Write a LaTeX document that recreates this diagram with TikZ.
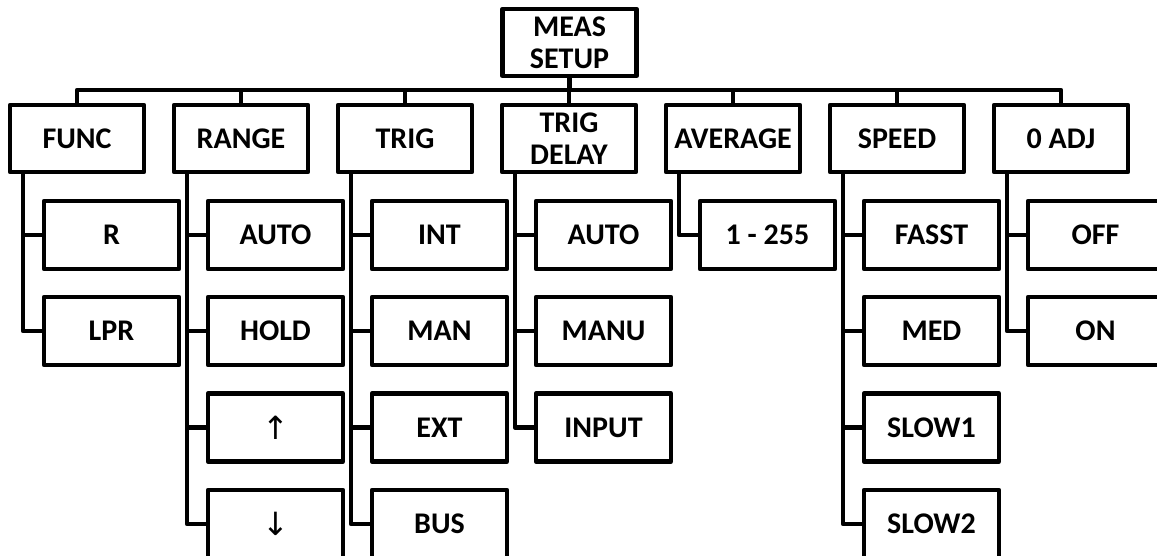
\documentclass[tikz,border=0pt]{standalone}
\usepackage{fontspec}
\setmainfont{Carlito}
\newfontfamily\arrowfont{DejaVu Sans}
\begin{document}
\begin{tikzpicture}[x=1pt,y=-1pt,
  box/.style={draw, line width=4.3pt, line join=round, minimum width=134pt, minimum height=67pt,
    inner sep=0pt, align=center, font=\bfseries\fontsize{30}{32}\selectfont},
  cbox/.style={box, minimum width=135pt, minimum height=68pt},
  arr/.style={font=\arrowfont\mdseries\fontsize{32}{32}\selectfont},
  wire/.style={line width=4.3pt, line join=round}]
\useasboundingbox (0,0) rectangle (1157,556);
\clip (0,0) rectangle (1157,556);
% root
\node[box] (meas) at (569.5,42.5) {MEAS\\SETUP};
% level 1
\node[box] (func)  at (77,138.5)  {FUNC};
\node[box] (range) at (241,138.5) {RANGE};
\node[box] (trig)  at (405,138.5) {TRIG};
\node[box] (tdel)  at (569,138.5) {TRIG\\DELAY};
\node[box] (avg)   at (733,138.5) {AVERAGE};
\node[box] (speed) at (897,138.5) {SPEED};
\node[box] (adj)   at (1061,138.5) {0 ADJ};
\coordinate (bus) at (569,90);
\draw[wire] (func.north) |- (adj.north |- bus) -- (adj.north);
\draw[wire] (meas.south) -- (meas.south |- bus);
\foreach \n in {range,trig,tdel,avg,speed}{
  \draw[wire] (\n.north) -- (\n.north |- bus);
}
% children
\node[cbox] (fr)   at (111.5,235) {R};
\node[cbox] (flpr) at (111.5,331) {LPR};
\node[cbox] (rauto) at (275.5,235) {AUTO};
\node[cbox] (rhold) at (275.5,331) {HOLD};
\node[cbox, arr] (rup)   at (275.5,427.5) {↑};
\node[cbox, arr] (rdown) at (275.5,524) {↓};
\node[cbox] (tint) at (439.5,235) {INT};
\node[cbox] (tman) at (439.5,331) {MAN};
\node[cbox] (text) at (439.5,427.5) {EXT};
\node[cbox] (tbus) at (439.5,524) {BUS};
\node[cbox] (dauto)  at (603.5,235) {AUTO};
\node[cbox] (dmanu)  at (603.5,331) {MANU};
\node[cbox] (dinput) at (603.5,427.5) {INPUT};
\node[cbox] (arng) at (767.5,235) {1 - 255};
\node[cbox] (sfast) at (931.5,235) {FASST};
\node[cbox] (smed)  at (931.5,331) {MED};
\node[cbox] (sslow1) at (931.5,427.5) {SLOW1};
\node[cbox] (sslow2) at (931.5,524) {SLOW2};
\node[cbox] (aoff) at (1095.5,235) {OFF};
\node[cbox] (aon)  at (1095.5,331) {ON};
\foreach \p/\c in {func/fr,func/flpr,range/rauto,range/rhold,range/rup,range/rdown,
  trig/tint,trig/tman,trig/text,trig/tbus,tdel/dauto,tdel/dmanu,tdel/dinput,avg/arng,
  speed/sfast,speed/smed,speed/sslow1,speed/sslow2,adj/aoff,adj/aon}{
  \draw[wire] ([xshift=-54pt]\p.south) |- (\c.west);
}
\end{tikzpicture}
\end{document}
